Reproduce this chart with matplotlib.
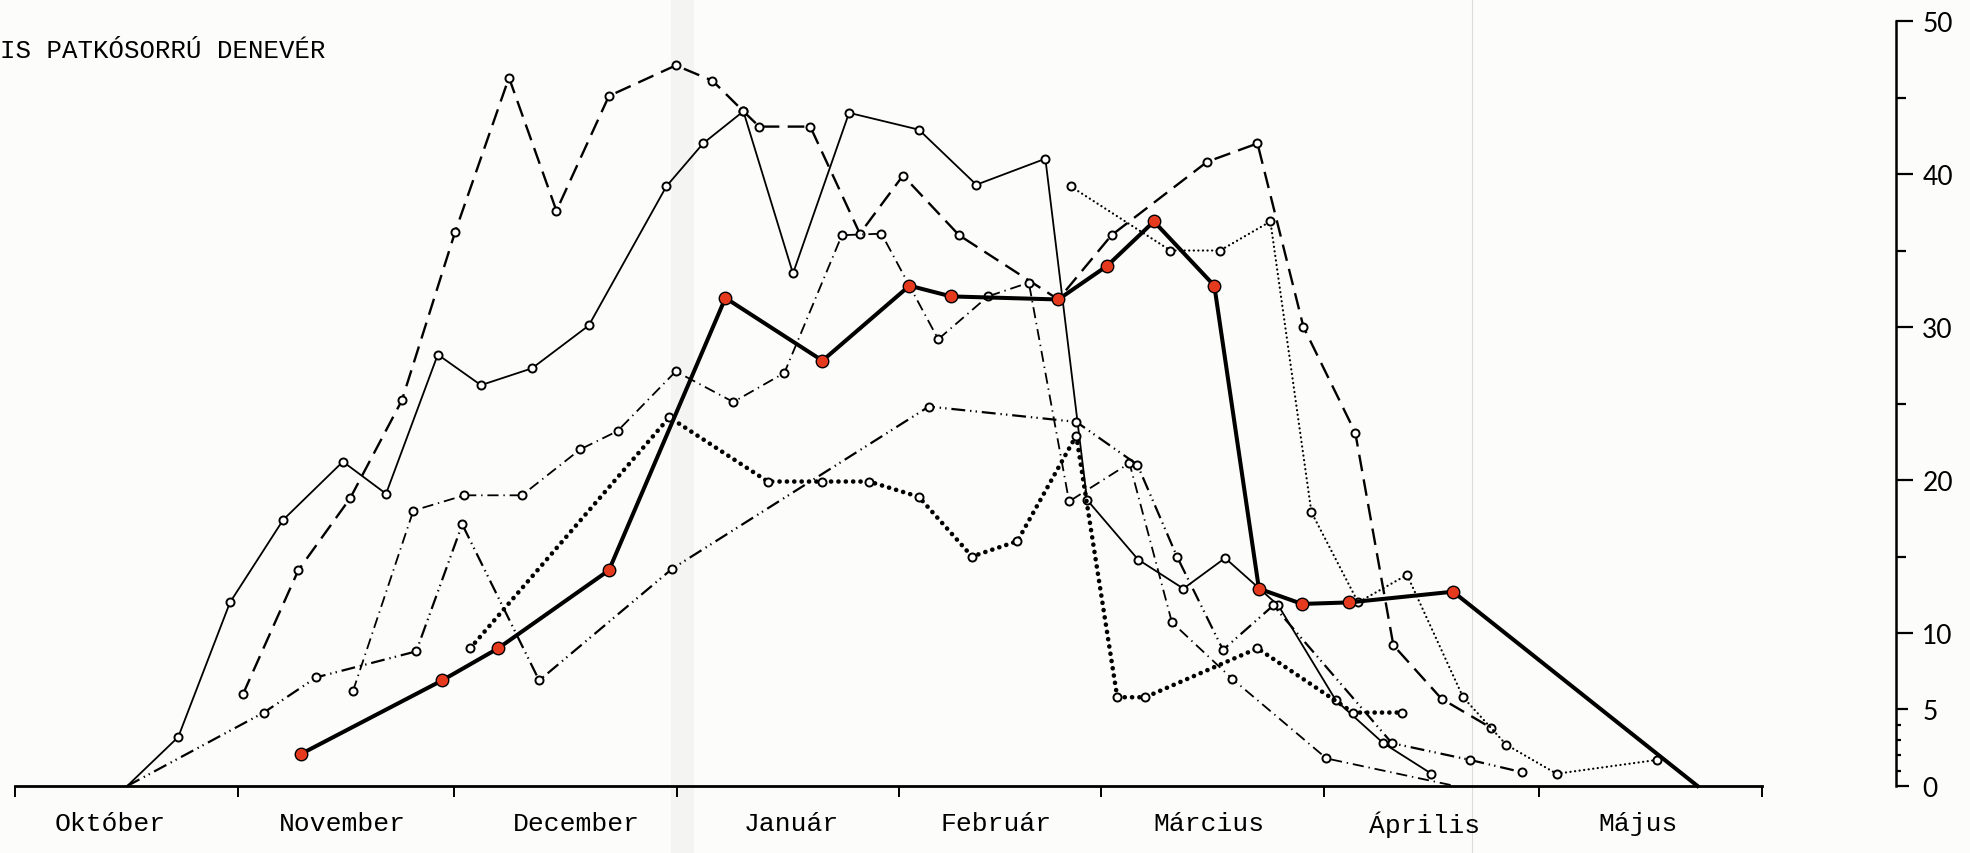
import numpy as np
import matplotlib
matplotlib.use("Agg")
import matplotlib.pyplot as plt

plt.rcParams['lines.scale_dashes'] = False

# x = days counted from 1 October, y = number of bats (right-hand scale)
months = ["Október", "November", "December", "Január",
          "Február", "Március", "Április", "Május"]
month_len = [31, 30, 31, 31, 28, 31, 30, 31]
month_label_day = [13.3, 45.5, 78.1, 108.0, 136.4, 166.0, 196.0, 225.7]

# thin solid line
solid_day = [15.6, 22.7, 29.9, 37.3, 45.6, 51.6, 58.8, 64.8, 71.9, 79.8, 90.6, 95.7, 101.3,
             108.2, 116.0, 125.7, 133.7, 143.3, 149.1, 156.2, 162.5, 168.3, 175.7, 183.7,
             190.3, 197.0]
solid_val = [0, 3.2, 12.0, 17.4, 21.2, 19.1, 28.2, 26.2, 27.3, 30.1, 39.2, 42.0, 44.1,
             33.5, 44.0, 42.9, 39.3, 41.0, 18.7, 14.8, 12.9, 14.9, 11.8, 5.6,
             2.8, 0.8]

# dashed line
dashed_day = [31.7, 39.4, 46.6, 53.8, 61.2, 68.7, 75.3, 82.6, 91.9, 97.0, 101.3, 103.5,
              110.6, 117.5, 123.5, 131.3, 145.1, 152.5, 165.8, 172.8, 179.2, 186.4,
              191.7, 198.4, 205.3]
dashed_val = [6.0, 14.1, 18.8, 25.2, 36.2, 46.3, 37.6, 45.1, 47.1, 46.1, 44.1, 43.1,
              43.1, 36.1, 39.9, 36.0, 31.8, 36.0, 40.8, 42.0, 30.0, 23.1,
              9.2, 5.7, 3.8]

# thin dash-dot line
dashdot_day = [47.0, 55.4, 62.5, 70.5, 78.6, 83.8, 91.9, 99.9, 107.0, 115.0, 120.5,
               128.4, 135.3, 141.0, 146.6, 155.0, 160.9, 169.3, 182.4, 200.3]
dashdot_val = [6.2, 18.0, 19.0, 19.0, 22.0, 23.2, 27.1, 25.1, 27.0, 36.0, 36.1,
               29.2, 32.0, 32.9, 18.6, 21.1, 10.7, 7.0, 1.8, 0]

# dash-dot-dot line
dashdot2_day = [15.6, 34.6, 41.9, 55.8, 62.2, 72.9, 91.4, 127.1, 147.6, 156.1, 161.6,
                168.0, 175.0, 191.5, 202.4, 209.6]
dashdot2_val = [0, 4.8, 7.1, 8.8, 17.1, 6.9, 14.2, 24.8, 23.8, 21.0, 15.0,
                8.9, 11.8, 2.8, 1.7, 0.9]

# heavy dotted line
bigdot_day = [63.3, 91.0, 104.7, 112.3, 118.8, 125.7, 133.1, 139.4, 147.6, 153.3, 157.2,
              172.8, 186.1, 192.9]
bigdot_val = [9.0, 24.1, 19.9, 19.9, 19.9, 18.9, 15.0, 16.0, 22.9, 5.8, 5.8,
              9.0, 4.8, 4.8]

# fine dotted line
dot_day = [146.8, 160.7, 167.6, 174.6, 180.3, 186.8, 193.6, 201.4, 207.4, 214.4, 228.3]
dot_val = [39.2, 35.0, 35.0, 36.9, 17.9, 12.0, 13.8, 5.8, 2.7, 0.8, 1.7]

# thick line with red points
mean_day = [39.8, 59.4, 67.2, 82.6, 98.8, 112.3, 124.4, 130.2, 145.1, 151.9, 158.4,
            166.8, 173.0, 179.0, 185.6, 200.0, 234.0]
mean_val = [2.1, 6.9, 9.0, 14.1, 31.9, 27.8, 32.7, 32.0, 31.8, 34.0, 36.9,
            32.7, 12.9, 11.9, 12.0, 12.7, 0]

W, H = 1970, 854
paper = '#fcfcfa'
fig = plt.figure(figsize=(W / 100, H / 100), dpi=100, facecolor=paper)
ax = fig.add_axes([0, 0, 1, 1])
ax.set_facecolor(paper)
ax.set_xlim(-2.09, 271.9)
ax.set_ylim(-4.38, 51.44)

# faint scan marks of the paper
ax.axvspan(91.3, 94.5, color='#f4f4f2', lw=0, zorder=0)
ax.axvline(202.7, color='#dcdcdc', lw=0.8, zorder=0)

open_pt = dict(marker='o', ms=5.8, mfc='white', mec='black', mew=1.4, color='black')

def all_but(n, skip):
    return [i for i in range(n) if i not in skip]

ax.plot(solid_day, solid_val, lw=1.3, ls='-',
        markevery=all_but(len(solid_day), [0]), zorder=3, **open_pt)
ax.plot(dashed_day, dashed_val, lw=1.7, ls=(0, (12, 6)), zorder=3, **open_pt)
ax.plot(dashdot_day, dashdot_val, lw=1.3, ls=(0, (8, 3.5, 1, 3.5)),
        markevery=all_but(len(dashdot_day), [len(dashdot_day) - 1]), zorder=3, **open_pt)
ax.plot(dashdot2_day, dashdot2_val, lw=1.6, ls=(0, (10, 3.5, 1, 3, 1, 3.5)),
        markevery=all_but(len(dashdot2_day), [0]), zorder=3, **open_pt)
ax.plot(bigdot_day, bigdot_val, lw=3.3, ls=(0, (0.1, 5.2)), dash_capstyle='round',
        zorder=3, **open_pt)
ax.plot(dot_day, dot_val, lw=1.6, ls=(0, (0.1, 3.2)), dash_capstyle='round',
        zorder=3, **open_pt)
ax.plot(mean_day, mean_val, color='black', lw=2.9,
        marker='o', ms=9, mfc='#e63a1e', mec='black', mew=1.0,
        markevery=all_but(len(mean_day), [len(mean_day) - 1]), zorder=5)

# x axis: month boundaries with names under each month
bounds = np.concatenate([[0], np.cumsum(month_len)])
for s in ['top', 'left']:
    ax.spines[s].set_visible(False)
ax.spines['bottom'].set_position(('data', 0))
ax.spines['bottom'].set_bounds(bounds[0], bounds[-1])
ax.spines['bottom'].set_linewidth(2.0)
ax.set_xticks(bounds)
ax.set_xticklabels([])
ax.tick_params(axis='x', which='major', direction='out', length=8, width=1.4)
ax.set_xticks(month_label_day, minor=True)
ax.set_xticklabels(months, minor=True, family='Liberation Mono', fontsize=19)
ax.tick_params(axis='x', which='minor', length=0, pad=18)

# y axis on the right, away from the plot
ax.spines['right'].set_position(('data', 261.6))
ax.spines['right'].set_bounds(0, 50)
ax.spines['right'].set_linewidth(1.8)
ax.yaxis.set_ticks_position('right')
major_y = [0, 5, 10, 20, 30, 40, 50]
minor_y = [1, 2, 3, 4, 15, 25, 35, 45]
ax.set_yticks(major_y)
ax.set_yticklabels([str(v) for v in major_y], family='Lato', fontsize=19)
ax.set_yticks(minor_y, minor=True)
ax.tick_params(axis='y', which='major', direction='out', length=12, width=1.6, pad=7)
ax.tick_params(axis='y', which='minor', direction='out', length=7, width=1.6)
major_len = {0: 9.4, 5: 8.6}
for v, t in zip(major_y, ax.yaxis.get_major_ticks()):
    t.tick2line.set_markersize(major_len.get(v, 12))
for v, t in zip(minor_y, ax.yaxis.get_minor_ticks()):
    t.tick2line.set_markersize(3.6 if v < 5 else 7.2)

fig.text(0.0, 1 - 51 / H, "IS PATKÓSORRÚ DENEVÉR", family='Liberation Mono',
         fontsize=18.5, ha='left', va='center')

fig.savefig("out.png", dpi=100, facecolor=paper)
